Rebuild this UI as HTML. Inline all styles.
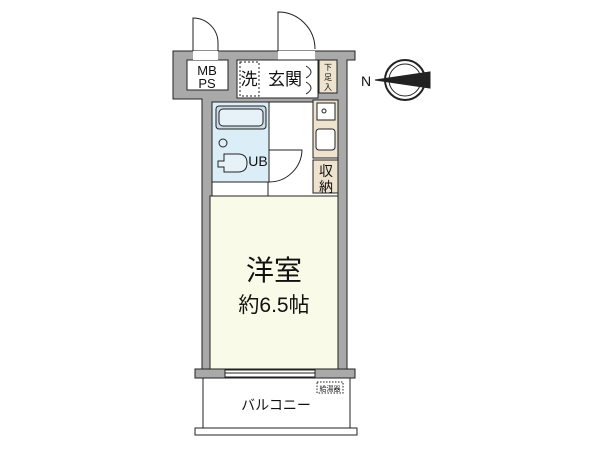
<!DOCTYPE html>
<html><head><meta charset="utf-8"><style>
html,body{margin:0;padding:0;background:#fff;width:600px;height:450px;overflow:hidden}
text{font-family:"Liberation Sans","Noto Sans CJK JP",sans-serif;fill:#111}
</style></head><body>
<svg width="600" height="450" viewBox="0 0 600 450" xmlns="http://www.w3.org/2000/svg">
<g stroke="#222" stroke-width="1">
<!-- walls -->
<path d="M173 51 H355 V60 H347 V378 H202 V99 H173 Z" fill="#a9a9a9"/>
<!-- interior white -->
<rect x="212" y="102" width="126" height="268" fill="#fff"/>
<!-- MB PS -->
<rect x="187" y="60" width="41" height="30" fill="#fff"/>
<!-- door gaps in top wall -->
<rect x="193" y="51" width="25" height="9" fill="#fff" stroke="none"/>
<rect x="278" y="51" width="37" height="9" fill="#fff" stroke="none"/>
<!-- door swings -->
<path d="M193 51 V18 A25 25 0 0 1 218 43 V51" fill="none"/>
<path d="M278 51 V12 A37 37 0 0 1 315 49" fill="none"/>
<!-- entrance -->
<rect x="237" y="60" width="81" height="38" fill="#fff"/>
<rect x="240" y="62" width="19" height="34" fill="none" stroke-dasharray="2,2"/>
<rect x="319" y="60" width="18" height="33" fill="#ede3cf"/>
<path d="M306 66 Q316 72 306 78 M306 82 Q316 88 306 94" fill="none"/>
<!-- UB -->
<rect x="212" y="102" width="57" height="80" fill="#dbeef8"/>
<rect x="216" y="106" width="50" height="23" rx="3" fill="#c9dbe5"/>
<rect x="219" y="109" width="44" height="17" rx="4" fill="#e6f2f8"/>
<circle cx="223" cy="143" r="4" fill="none"/>
<path d="M218 161 h6 v-7 h14 q9 0 9 9 q0 9 -9 9 h-14 v-5 h-6 z" fill="#e6f2f8"/>
<!-- kitchen -->
<rect x="313" y="100" width="25" height="58" fill="#ede3cf"/>
<rect x="317" y="103" width="18" height="17" fill="#fff"/>
<circle cx="324" cy="111" r="2" fill="none"/>
<rect x="316" y="129" width="19" height="21" rx="3" fill="#fff"/>
<!-- storage -->
<rect x="313" y="160" width="25" height="33" fill="#ede3cf"/>
<!-- hall door -->
<path d="M269 150 H302 A33 33 0 0 1 269 182" fill="none"/>
<path d="M282 197 A30 30 0 0 0 308 223 V197" fill="none"/>
<!-- room -->
<rect x="210" y="196" width="128" height="173" fill="#fafae8"/>
<line x1="268" y1="182" x2="268" y2="196"/>
<!-- bottom wall -->
<rect x="195" y="369" width="160" height="9" fill="#a9a9a9"/>
<rect x="225" y="370" width="90" height="7" fill="#fff"/>
<line x1="225" y1="373" x2="315" y2="373"/>
<!-- balcony -->
<rect x="203" y="378" width="147" height="50" fill="#fff"/>
<rect x="195" y="428" width="162" height="7" fill="#fff"/>
<rect x="317" y="382" width="26" height="11" fill="none" stroke-dasharray="1.5,1.5"/>
<!-- compass -->
<circle cx="405" cy="80" r="20" fill="#fff" stroke-width="2"/>
<circle cx="405" cy="80" r="16" fill="none"/>
<path d="M375 80 L430 72 L430 88 Z" fill="#222"/>
</g>
<text x="207" y="75" font-size="13" text-anchor="middle">MB</text>
<text x="207" y="88" font-size="13" text-anchor="middle">PS</text>
<text x="249" y="85" font-size="17" text-anchor="middle">洗</text>
<text x="285" y="85" font-size="17" text-anchor="middle">玄関</text>
<text x="328" y="70" font-size="8" text-anchor="middle">下</text>
<text x="328" y="80" font-size="8" text-anchor="middle">足</text>
<text x="328" y="90" font-size="8" text-anchor="middle">入</text>
<text x="258" y="166" font-size="14" text-anchor="middle">UB</text>
<text x="326" y="176" font-size="14" text-anchor="middle">収</text>
<text x="326" y="192" font-size="14" text-anchor="middle">納</text>
<text x="274" y="280" font-size="28" text-anchor="middle">洋室</text>
<text x="274" y="312" font-size="21" text-anchor="middle">約6.5帖</text>
<text x="330" y="391" font-size="7" text-anchor="middle">給湯器</text>
<text x="276" y="410" font-size="14" text-anchor="middle">バルコニー</text>
<text x="366" y="86" font-size="14" text-anchor="middle">N</text>
</svg>
</body></html>
